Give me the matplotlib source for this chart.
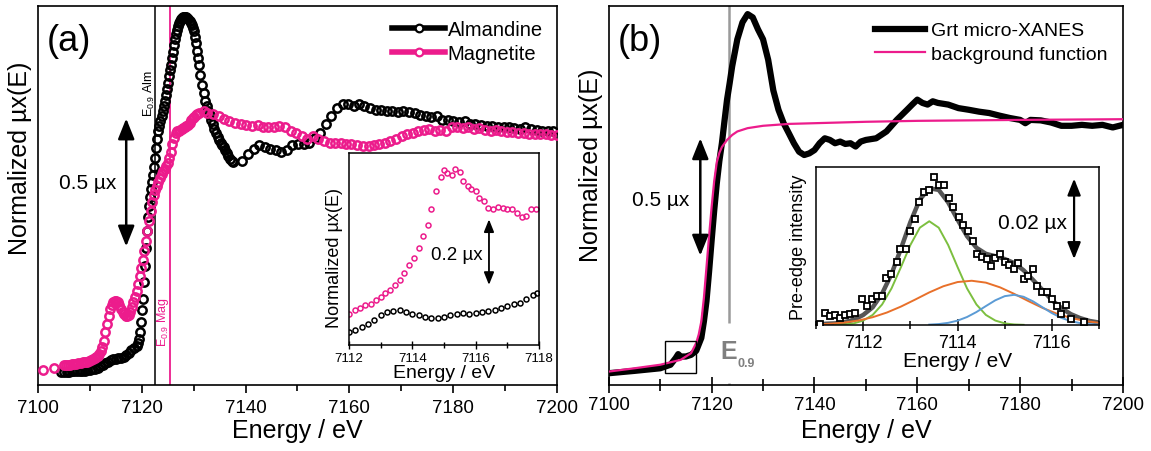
import matplotlib
matplotlib.use("Agg")
import matplotlib.pyplot as plt
import numpy as np
from matplotlib.lines import Line2D
from matplotlib.patches import Rectangle, ArrowStyle
from matplotlib.ticker import MultipleLocator

plt.rcParams['font.family'] = ['Liberation Sans', 'DejaVu Sans']
plt.rcParams['mathtext.fontset'] = 'custom'
plt.rcParams['mathtext.rm'] = 'Liberation Sans'
plt.rcParams['mathtext.bf'] = 'Liberation Sans:bold'

PINK = '#EC1C8C'

# ---------------- panel (a): almandine / magnetite ----------------
alm_E = [7104.5, 7105, 7105.5, 7106, 7106.5, 7107, 7107.5, 7108, 7108.5, 7109, 7109.5, 7110,
         7110.5, 7111, 7111.5, 7112, 7112.5, 7113, 7113.5, 7114, 7114.5, 7115, 7115.5, 7116,
         7116.5, 7117, 7117.5, 7118, 7118.5,
         7119.0, 7119.2, 7119.4, 7119.6, 7119.8, 7120.0, 7120.2, 7120.4, 7120.6, 7120.8,
         7121.0, 7121.2, 7121.4, 7121.6, 7121.8, 7122.0, 7122.2, 7122.4, 7122.6, 7122.8,
         7123.0, 7123.2, 7123.4, 7123.6, 7123.8, 7124.0, 7124.2, 7124.4, 7124.6, 7124.8,
         7125.0, 7125.2, 7125.4, 7125.6, 7125.8, 7126.0, 7126.2, 7126.4, 7126.6, 7126.8,
         7127.0, 7127.2, 7127.4, 7127.6, 7127.8, 7128.0, 7128.2, 7128.4, 7128.6, 7128.8,
         7129.0, 7129.2, 7129.4, 7129.6, 7129.8, 7130.0, 7130.2, 7130.4, 7130.6, 7130.8, 7131.0,
         7131.3, 7131.6, 7131.9, 7132.2, 7132.5, 7132.8, 7133.1, 7133.4, 7133.7, 7134.0,
         7134.3, 7134.6, 7134.9, 7135.2, 7135.5, 7135.8, 7136.1, 7136.4, 7136.7, 7137.0,
         7137.3, 7137.6,
         7139.4, 7140.5, 7141.6, 7142.6, 7143.7, 7144.8, 7145.8, 7146.9, 7148.0, 7149.0,
         7150.1, 7151.2, 7152.2, 7153.3, 7154.4, 7155.5, 7156.5, 7157.6, 7158.7, 7159.7,
         7160.8, 7161.9, 7162.9, 7164.0, 7165.1, 7166.1, 7167.2, 7168.3, 7169.4, 7170.4,
         7171.5, 7172.6, 7173.6, 7174.7, 7175.8, 7176.8, 7177.9, 7179.0, 7180.0, 7181.1,
         7182.2, 7183.2, 7184.3, 7185.4, 7186.5, 7187.5, 7188.6, 7189.7, 7190.7, 7191.8,
         7192.9, 7193.9, 7195.0, 7196.1, 7197.1, 7198.2, 7199.3]
alm_mu = [0.0, 0.0, 0.0, 0.0, 0.002, 0.002, 0.003, 0.003, 0.004, 0.005, 0.006, 0.008,
          0.010, 0.012, 0.016, 0.022, 0.028, 0.034, 0.040, 0.046, 0.050, 0.052, 0.054, 0.056,
          0.060, 0.066, 0.075, 0.085, 0.093,
          0.100, 0.112, 0.130, 0.156, 0.195, 0.240, 0.285, 0.350, 0.415, 0.485,
          0.550, 0.605, 0.650, 0.685, 0.715, 0.740, 0.770, 0.800, 0.835, 0.875,
          0.910, 0.940, 0.960, 0.980, 1.000, 1.020, 1.040, 1.060, 1.080, 1.105,
          1.130, 1.155, 1.180, 1.200, 1.225, 1.250, 1.275, 1.300, 1.320, 1.335,
          1.350, 1.362, 1.372, 1.378, 1.383, 1.386, 1.387, 1.386, 1.385, 1.382,
          1.378, 1.372, 1.364, 1.355, 1.343, 1.330, 1.308, 1.283, 1.255, 1.228, 1.200,
          1.160, 1.120, 1.090, 1.060, 1.040, 1.020, 1.005, 0.985, 0.968, 0.950,
          0.932, 0.918, 0.905, 0.895, 0.885, 0.877, 0.867, 0.855, 0.843, 0.833,
          0.825, 0.820,
          0.825, 0.850, 0.870, 0.885, 0.880, 0.870, 0.865, 0.860, 0.865, 0.885,
          0.890, 0.890, 0.895, 0.915, 0.935, 0.970, 1.000, 1.030, 1.045, 1.045,
          1.040, 1.045, 1.040, 1.030, 1.025, 1.025, 1.020, 1.020, 1.015, 1.020,
          1.015, 1.013, 1.005, 1.000, 0.995, 1.000, 0.985, 0.985, 0.980, 0.978,
          0.980, 0.970, 0.968, 0.964, 0.961, 0.961, 0.957, 0.955, 0.955, 0.952,
          0.950, 0.955, 0.948, 0.945, 0.942, 0.940, 0.942]

mag_E = [7101, 7103, 7105, 7105.4, 7105.8, 7106.2, 7106.6, 7107, 7107.4, 7107.8, 7108.2,
         7108.6, 7109, 7109.4, 7109.8, 7110.2, 7110.6, 7110.9,
         7111.2, 7111.5, 7111.8, 7112.1, 7112.4, 7112.7, 7113.0, 7113.3, 7113.6, 7113.9,
         7114.2, 7114.5, 7114.8, 7115.1, 7115.4, 7115.7, 7116.0, 7116.3, 7116.6, 7116.9,
         7117.2, 7117.5, 7117.8, 7118.1, 7118.4, 7118.7, 7119.0, 7119.3, 7119.6, 7119.9,
         7120.2, 7120.5, 7120.8, 7121.1, 7121.4, 7121.7, 7122.0, 7122.3, 7122.6, 7122.9,
         7123.2, 7123.5, 7123.8, 7124.1, 7124.4, 7124.7, 7125.0, 7125.3, 7125.6, 7125.9,
         7126.2, 7126.5, 7126.8, 7127.1, 7127.4, 7127.7, 7128.0, 7128.3, 7128.6, 7128.9,
         7129.2, 7129.5, 7129.8, 7130.1, 7130.4, 7130.7, 7131.0,
         7131.9, 7132.6, 7133.7, 7134.8, 7135.9, 7136.9, 7138.0, 7139.1, 7140.1, 7141.2,
         7142.3, 7143.3, 7144.4, 7145.5, 7146.5, 7147.6, 7148.7, 7149.7, 7150.8, 7151.9,
         7153.0, 7154.0, 7155.1, 7156.2, 7157.2, 7158.3, 7159.4, 7160.4, 7161.5, 7162.6,
         7163.7, 7164.7, 7165.8, 7166.9, 7167.9, 7169.0, 7170.1, 7171.1, 7172.2, 7173.3,
         7174.3, 7175.4, 7176.5, 7177.5, 7178.6, 7179.7, 7180.8, 7181.8, 7182.9, 7184.0,
         7185.0, 7186.1, 7187.2, 7188.2, 7189.3, 7190.4, 7191.4, 7192.5, 7193.6, 7194.7,
         7195.7, 7196.8, 7197.9, 7198.9, 7200.0]
mag_mu = [0.006, 0.016, 0.026, 0.027, 0.028, 0.029, 0.030, 0.032, 0.033, 0.034, 0.036,
          0.037, 0.039, 0.040, 0.043, 0.046, 0.050, 0.054,
          0.058, 0.063, 0.071, 0.083, 0.098, 0.122, 0.156, 0.188, 0.217, 0.245,
          0.262, 0.273, 0.278, 0.278, 0.272, 0.261, 0.247, 0.234, 0.225, 0.219,
          0.218, 0.223, 0.236, 0.252, 0.272, 0.294, 0.318, 0.345, 0.374, 0.405,
          0.439, 0.474, 0.513, 0.552, 0.591, 0.627, 0.662, 0.690, 0.712, 0.725,
          0.740, 0.758, 0.772, 0.783, 0.792, 0.803, 0.815, 0.835, 0.860, 0.890,
          0.915, 0.935, 0.940, 0.942, 0.944, 0.948, 0.952, 0.956, 0.960, 0.966,
          0.974, 0.983, 0.990, 0.997, 1.003, 1.008, 1.013,
          1.019, 1.013, 1.006, 1.000, 0.987, 0.980, 0.974, 0.968, 0.964, 0.961,
          0.964, 0.958, 0.955, 0.958, 0.961, 0.955, 0.942, 0.935, 0.922, 0.909,
          0.922, 0.909, 0.903, 0.896, 0.894, 0.894, 0.890, 0.890, 0.887, 0.883,
          0.883, 0.886, 0.890, 0.896, 0.903, 0.909, 0.920, 0.929, 0.935, 0.942,
          0.945, 0.948, 0.942, 0.945, 0.942, 0.955, 0.955, 0.951, 0.955, 0.948,
          0.951, 0.945, 0.942, 0.945, 0.942, 0.938, 0.938, 0.935, 0.932, 0.929,
          0.929, 0.929, 0.929, 0.926, 0.926]

e09_alm = 7122.6
e09_mag = 7125.4

# inset (a): pre-edge region
ina_mag_E = [7112.0, 7112.2, 7112.35, 7112.5, 7112.7, 7112.85, 7113.0, 7113.15, 7113.3,
             7113.45, 7113.6, 7113.75, 7113.9, 7114.05, 7114.2, 7114.35, 7114.5, 7114.6,
             7114.75, 7114.9, 7115.0, 7115.1, 7115.25, 7115.35, 7115.5, 7115.6, 7115.75,
             7115.85, 7116.0, 7116.1, 7116.25, 7116.4, 7116.55, 7116.7, 7116.85, 7117.0,
             7117.15, 7117.3, 7117.45, 7117.6, 7117.75, 7117.9]
ina_mag_mu = [0.095, 0.106, 0.113, 0.121, 0.126, 0.136, 0.147, 0.157, 0.167,
              0.183, 0.198, 0.218, 0.244, 0.265, 0.295, 0.331, 0.365, 0.413,
              0.470, 0.511, 0.533, 0.523, 0.519, 0.536, 0.526, 0.500, 0.485,
              0.475, 0.470, 0.449, 0.439, 0.418, 0.413, 0.420, 0.418, 0.413,
              0.413, 0.403, 0.390, 0.393, 0.413, 0.413]
ina_alm_E = [7112.0, 7112.2, 7112.4, 7112.6, 7112.8, 7113.0, 7113.2, 7113.4, 7113.6, 7113.8,
             7114.0, 7114.2, 7114.4, 7114.6, 7114.8, 7115.0, 7115.2, 7115.4, 7115.6, 7115.8,
             7116.0, 7116.2, 7116.4, 7116.6, 7116.8, 7117.0, 7117.2, 7117.4, 7117.6, 7117.8,
             7117.95]
ina_alm_mu = [0.041, 0.046, 0.054, 0.065, 0.075, 0.090, 0.101, 0.103, 0.106, 0.101,
              0.093, 0.090, 0.085, 0.082, 0.082, 0.085, 0.090, 0.094, 0.097, 0.095,
              0.098, 0.101, 0.104, 0.108, 0.113, 0.119, 0.126, 0.129, 0.139, 0.152,
              0.157]

# ---------------- panel (b): garnet micro-XANES ----------------
grt_E = [7100, 7105, 7110, 7112, 7113, 7113.5, 7114, 7115, 7116, 7117, 7118, 7118.5, 7119,
         7119.5, 7120, 7120.5, 7121, 7121.5, 7122, 7122.5, 7123, 7123.5, 7124, 7125, 7126,
         7127, 7128, 7129, 7130, 7131, 7132, 7133, 7134, 7135, 7136, 7137, 7138, 7139,
         7140, 7141, 7142, 7143, 7144, 7145, 7146, 7147, 7148, 7149, 7150, 7152, 7154,
         7156, 7158, 7159, 7160, 7161, 7162, 7163, 7164, 7166, 7168, 7170, 7172, 7174,
         7176, 7178, 7180, 7181, 7182, 7184, 7186, 7188, 7190, 7192, 7194, 7196, 7198, 7200]
grt_mu = [0.0, 0.010, 0.021, 0.036, 0.064, 0.081, 0.071, 0.071, 0.078, 0.095, 0.150, 0.220,
          0.306, 0.430, 0.563, 0.690, 0.805, 0.900, 0.976, 1.070, 1.161, 1.230, 1.303, 1.417,
          1.489, 1.524, 1.510, 1.460, 1.417, 1.330, 1.200, 1.118, 1.061, 1.019, 0.976, 0.940,
          0.926, 0.933, 0.947, 0.976, 0.997, 0.990, 0.976, 0.983, 0.973, 0.976, 0.962,
          0.983, 0.990, 0.997, 1.026, 1.075, 1.118, 1.140, 1.161, 1.147, 1.140, 1.154,
          1.147, 1.140, 1.125, 1.118, 1.110, 1.104, 1.093, 1.083, 1.075, 1.061, 1.075,
          1.073, 1.064, 1.050, 1.050, 1.054, 1.050, 1.054, 1.043, 1.054]

bg_E = [7100, 7105, 7110, 7114, 7116, 7117, 7117.5, 7118, 7118.5, 7119, 7119.5, 7120,
        7120.5, 7121, 7121.5, 7122, 7123, 7124, 7125, 7127, 7130, 7135, 7140, 7150,
        7160, 7180, 7200]
bg_mu = [0.007, 0.021, 0.036, 0.057, 0.085, 0.128, 0.165, 0.220, 0.320, 0.449, 0.580, 0.705,
         0.815, 0.895, 0.935, 0.960, 0.990, 1.011, 1.026, 1.040, 1.050, 1.058, 1.061, 1.067,
         1.071, 1.075, 1.078]

e09_grt = 7123.3

# inset (b): pre-edge fit
pre_E = [7111.08, 7111.19, 7111.30, 7111.40, 7111.51, 7111.61, 7111.72, 7111.83, 7111.97,
         7112.07, 7112.18, 7112.30, 7112.39, 7112.48, 7112.58, 7112.71, 7112.78, 7112.91,
         7112.99, 7113.10, 7113.19, 7113.29, 7113.40, 7113.50, 7113.61, 7113.71, 7113.81,
         7113.91, 7114.02, 7114.12, 7114.23, 7114.32, 7114.42, 7114.51, 7114.62, 7114.70,
         7114.80, 7114.90, 7115.01, 7115.10, 7115.20, 7115.29, 7115.40, 7115.50, 7115.59,
         7115.69, 7115.78, 7115.89, 7116.00, 7116.10, 7116.19, 7116.30, 7116.40, 7116.68]
pre_int = [0.0002, 0.0029, 0.0023, 0.0024, 0.0018, 0.0025, 0.0027, 0.0029, 0.0064,
           0.0048, 0.0064, 0.0073, 0.0073, 0.0118, 0.0127, 0.0156, 0.0188, 0.0188,
           0.0233, 0.0264, 0.0306, 0.0331, 0.0335, 0.0368, 0.0349, 0.0348, 0.0316,
           0.0293, 0.0268, 0.0248, 0.0233, 0.0210, 0.0177, 0.0168, 0.0164, 0.0146,
           0.0166, 0.0177, 0.0156, 0.0148, 0.0139, 0.0154, 0.0114, 0.0123, 0.0139,
           0.0096, 0.0083, 0.0083, 0.0064, 0.0046, 0.0027, 0.0049, 0.0016, 0.0008]

fit_E = [7111.0, 7111.2, 7111.4, 7111.6, 7111.8, 7112.0, 7112.2, 7112.4, 7112.6, 7112.8,
         7113.0, 7113.2, 7113.4, 7113.6, 7113.8, 7114.0, 7114.2, 7114.4, 7114.6, 7114.8,
         7115.0, 7115.2, 7115.4, 7115.6, 7115.8, 7116.0, 7116.2, 7116.4, 7116.6, 7116.8,
         7117.0]
fit_total = [0.0001, 0.0003, 0.0004, 0.0007, 0.0013, 0.0025, 0.0044, 0.0078, 0.0127, 0.0190,
             0.0256, 0.0312, 0.0340, 0.0336, 0.0305, 0.0262, 0.0221, 0.0192, 0.0177, 0.0171,
             0.0164, 0.0154, 0.0136, 0.0112, 0.0087, 0.0062, 0.0042, 0.0027, 0.0017, 0.0010,
             0.0006]

green_E = [7111.4, 7111.6, 7111.8, 7112.0, 7112.2, 7112.4, 7112.6, 7112.8, 7113.0, 7113.2,
           7113.4, 7113.6, 7113.8, 7114.0, 7114.2, 7114.4, 7114.6, 7114.8, 7115.0, 7115.2,
           7115.4]
green_int = [0.00004, 0.00013, 0.0004, 0.0011, 0.0025, 0.0051, 0.0091, 0.0144, 0.0199, 0.0242,
             0.0258, 0.0242, 0.0199, 0.0144, 0.0091, 0.0051, 0.0025, 0.0011, 0.0004, 0.00013,
             0.00004]
orange_E = [7111.0, 7111.3, 7111.6, 7111.9, 7112.2, 7112.5, 7112.8, 7113.1, 7113.4, 7113.7,
            7114.0, 7114.3, 7114.6, 7114.9, 7115.2, 7115.5, 7115.8, 7116.1, 7116.4, 7116.7,
            7117.0]
orange_int = [0.00014, 0.00031, 0.00061, 0.00112, 0.00193, 0.00309, 0.00458, 0.00631, 0.0081,
              0.00964, 0.01068, 0.0110, 0.01053, 0.00936, 0.00774, 0.00595, 0.00425, 0.00283,
              0.00175, 0.0010, 0.00053]
blue_E = [7113.4, 7113.6, 7113.8, 7114.0, 7114.2, 7114.4, 7114.6, 7114.8, 7115.0, 7115.2,
          7115.4, 7115.6, 7115.8, 7116.0, 7116.2, 7116.4, 7116.6, 7116.8, 7117.0]
blue_int = [0.00009, 0.00023, 0.00053, 0.00108, 0.00198, 0.00322, 0.0047, 0.00614, 0.00717,
            0.0075, 0.00701, 0.00587, 0.0044, 0.00295, 0.00177, 0.00095, 0.00046, 0.0002,
            0.00008]

# ---------------- figure ----------------
fig = plt.figure(figsize=(11.51, 4.52), dpi=100)
axa = fig.add_axes([0.0330, 0.1460, 0.4509, 0.8378])
axb = fig.add_axes([0.5289, 0.1460, 0.4468, 0.8378])

def arrow(ax, x, y0, y1, ms, lw):
    ax.annotate('', xy=(x, y1), xytext=(x, y0),
                arrowprops=dict(arrowstyle=ArrowStyle('<|-|>', head_length=0.5, head_width=0.2),
                                mutation_scale=ms, lw=lw, color='k', shrinkA=0, shrinkB=0))

# panel (a)
axa.axvline(e09_alm, color='k', lw=1.1, zorder=1)
axa.axvline(e09_mag, color=PINK, lw=1.3, zorder=1)
axa.plot(alm_E, alm_mu, 'o', ls='none', ms=6, mfc='none', mec='k', mew=1.8, zorder=2)
axa.plot(mag_E, mag_mu, 'o', ls='none', ms=6, mfc='none', mec=PINK, mew=1.8, zorder=3)
axa.set_xlim(7100, 7200)
axa.set_ylim(-0.051, 1.428)
axa.set_yticks([])
axa.xaxis.set_major_locator(MultipleLocator(20))
axa.xaxis.set_minor_locator(MultipleLocator(10))
axa.tick_params(axis='x', which='major', direction='out', length=6, width=1.2, labelsize=13.5, pad=4)
axa.tick_params(axis='x', which='minor', direction='out', length=4, width=1.2)
for s in axa.spines.values():
    s.set_linewidth(1.2)
axa.set_xlabel('Energy / eV', fontsize=18)
axa.xaxis.set_label_coords(0.5, -0.087)
axa.set_ylabel('Normalized µx(E)', fontsize=18)
axa.yaxis.set_label_coords(-0.012, 0.60)
axa.text(0.017, 0.955, '(a)', transform=axa.transAxes, fontsize=26, va='top', ha='left')
axa.text(7121.4, 1.0, r'E$_{0.9}$ Alm', rotation=90, fontsize=9, ha='center', va='bottom')
axa.text(7124.1, 0.10, r'E$_{0.9}$ Mag', rotation=90, fontsize=9, ha='center', va='bottom', color=PINK)
arrow(axa, 7117.0, 0.49, 0.99, 25, 1.8)
axa.text(7115.2, 0.74, '0.5 µx', fontsize=15, ha='right', va='center')
h_alm = Line2D([], [], color='k', lw=4, marker='o', ms=5.5, mfc='white', mec='k', mew=1.6)
h_mag = Line2D([], [], color=PINK, lw=4, marker='o', ms=5.5, mfc='white', mec=PINK, mew=1.6)
axa.legend([h_alm, h_mag], ['Almandine', 'Magnetite'], loc='upper right',
           bbox_to_anchor=(1.0, 1.0), frameon=False, fontsize=14.5, handlelength=2.6,
           handletextpad=0.15, labelspacing=0.25, borderaxespad=0.3)

# inset (a)
ina = fig.add_axes([0.3032, 0.2345, 0.1651, 0.4248])
ina.plot(ina_mag_E, ina_mag_mu, 'o', ls='none', ms=3.6, mfc='none', mec=PINK, mew=1.1)
ina.plot(ina_alm_E, ina_alm_mu, 'o', ls='none', ms=3.6, mfc='none', mec='k', mew=1.1)
ina.set_xlim(7112, 7118)
ina.set_ylim(0, 0.585)
ina.set_yticks([])
ina.xaxis.set_major_locator(MultipleLocator(2))
ina.xaxis.set_minor_locator(MultipleLocator(1))
ina.tick_params(axis='x', which='major', direction='inout', length=6, width=1, labelsize=9.5, pad=2)
ina.tick_params(axis='x', which='minor', direction='inout', length=4, width=1)
for s in ina.spines.values():
    s.set_linewidth(1.1)
ina.set_xlabel('Energy / eV', fontsize=14, labelpad=0)
ina.set_ylabel('Normalized µx(E)', fontsize=13)
ina.yaxis.set_label_coords(-0.03, 0.46)
arrow(ina, 7116.42, 0.183, 0.383, 15, 1.3)
ina.text(7116.23, 0.277, '0.2 µx', fontsize=13.5, ha='right', va='center')

# panel (b)
axb.vlines(e09_grt, 0.214, 1.6, color='#9a9a9a', lw=1.8, zorder=1)
axb.vlines(e09_grt, -0.06, -0.043, color='#9a9a9a', lw=1.8, zorder=1)
axb.plot(grt_E, grt_mu, color='k', lw=4.5, solid_joinstyle='round', zorder=2,
         label='Grt micro-XANES')
axb.plot(bg_E, bg_mu, color=PINK, lw=1.6, zorder=3, label='background function')
axb.add_patch(Rectangle((7111, 0.0), 6, 0.135, fill=False, lw=1.0, ec='k', zorder=4))
axb.set_xlim(7100, 7200)
axb.set_ylim(-0.05, 1.557)
axb.set_yticks([])
axb.xaxis.set_major_locator(MultipleLocator(20))
axb.xaxis.set_minor_locator(MultipleLocator(10))
axb.tick_params(axis='x', which='major', direction='inout', length=12, width=1.2, labelsize=13.5, pad=2)
axb.tick_params(axis='x', which='minor', direction='inout', length=8, width=1.2)
for s in axb.spines.values():
    s.set_linewidth(1.2)
axb.set_xlabel('Energy / eV', fontsize=18)
axb.xaxis.set_label_coords(0.5, -0.087)
axb.set_ylabel('Normalized µx(E)', fontsize=18)
axb.yaxis.set_label_coords(-0.012, 0.584)
axb.text(0.018, 0.955, '(b)', transform=axb.transAxes, fontsize=26, va='top', ha='left')
axb.text(7121.8, 0.095, 'E', fontsize=18, fontweight='bold', color='#7f7f7f', ha='left', va='center')
axb.text(7125.0, 0.045, '0.9', fontsize=9, fontweight='bold', color='#7f7f7f', ha='left', va='center')
arrow(axb, 7117.8, 0.499, 0.997, 25, 1.8)
axb.text(7115.6, 0.738, '0.5 µx', fontsize=15, ha='right', va='center')
axb.legend(loc='upper right', bbox_to_anchor=(1.0, 1.0), frameon=False, fontsize=14,
           handlelength=2.6, handletextpad=0.3, labelspacing=0.3, borderaxespad=0.4)

# inset (b)
inb = fig.add_axes([0.7090, 0.2788, 0.2459, 0.3496])
inb.plot(fit_E, fit_total, color='#555555', lw=3.2, solid_capstyle='round', zorder=1)
inb.plot(green_E, green_int, color='#7CBF3F', lw=1.4, zorder=2)
inb.plot(orange_E, orange_int, color='#E8702A', lw=1.4, zorder=2)
inb.plot(blue_E, blue_int, color='#5B9BD5', lw=1.4, zorder=2)
inb.plot(pre_E, pre_int, 's', ls='none', ms=4, mfc='white', mec='k', mew=1.3, zorder=3)
inb.set_xlim(7111, 7117)
inb.set_ylim(0, 0.0393)
inb.set_yticks([])
inb.xaxis.set_major_locator(MultipleLocator(2))
inb.xaxis.set_minor_locator(MultipleLocator(1))
inb.tick_params(axis='x', which='major', direction='inout', length=9, width=1.1, labelsize=13, pad=2)
inb.tick_params(axis='x', which='minor', direction='inout', length=6, width=1.1)
for s in inb.spines.values():
    s.set_linewidth(1.1)
inb.set_xlabel('Energy / eV', fontsize=15, labelpad=0)
inb.set_ylabel('Pre-edge intensity', fontsize=13)
inb.yaxis.set_label_coords(-0.032, 0.5)
arrow(inb, 7116.47, 0.0164, 0.0364, 20, 1.6)
inb.text(7116.31, 0.0256, '0.02 µx', fontsize=15, ha='right', va='center')

fig.savefig('out.png', dpi=100)
